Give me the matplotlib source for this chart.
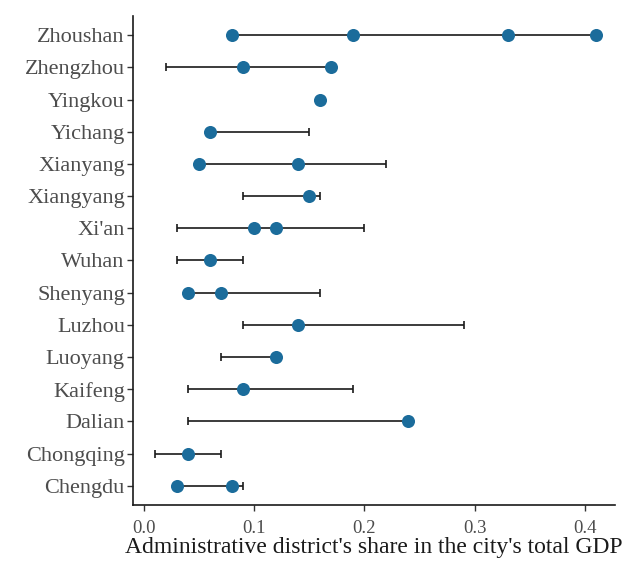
import matplotlib
matplotlib.use('Agg')
from matplotlib import pyplot as plt

# cities from bottom to top
cities = ['Chengdu', 'Chongqing', 'Dalian', 'Kaifeng', 'Luoyang', 'Luzhou',
          'Shenyang', 'Wuhan', "Xi'an", 'Xiangyang', 'Xianyang', 'Yichang',
          'Yingkou', 'Zhengzhou', 'Zhoushan']
# range of district shares (min / max)
lows = [0.03, 0.01, 0.04, 0.04, 0.07, 0.09, 0.04, 0.03, 0.03, 0.09, 0.05, 0.06,
        0.16, 0.02, 0.08]
highs = [0.09, 0.07, 0.24, 0.19, 0.12, 0.29, 0.16, 0.09, 0.20, 0.16, 0.22, 0.15,
         0.16, 0.17, 0.41]
# administrative district points
points = [[0.03, 0.08], [0.04], [0.24], [0.09], [0.12], [0.14],
          [0.04, 0.07], [0.06], [0.10, 0.12], [0.15], [0.05, 0.14], [0.06],
          [0.16], [0.09, 0.17], [0.08, 0.19, 0.33, 0.41]]
xticks = [0.0, 0.1, 0.2, 0.3, 0.4]

plt.rcParams['font.family'] = ['Liberation Serif', 'DejaVu Serif']

fig = plt.figure(figsize=(6.31, 5.65), dpi=100)
ax = fig.add_axes([0.211, 0.106, 0.764, 0.866])

ys = list(range(len(cities)))
mids = [(l + h) / 2 for l, h in zip(lows, highs)]
errs = [(h - l) / 2 for l, h in zip(lows, highs)]
ax.errorbar(mids, ys, xerr=errs, fmt='none', ecolor='#1a1a1a',
            elinewidth=1.2, capsize=3, capthick=1.2, zorder=2)

for y, pts in zip(ys, points):
    ax.plot(pts, [y] * len(pts), 'o', color='#1b6c9b', markersize=9.4,
            markeredgewidth=0, zorder=3, linestyle='none')

ax.set_yticks(ys)
ax.set_yticklabels(cities, fontsize=16)
ax.set_xticks(xticks)
ax.set_xticklabels(['%.1f' % t for t in xticks], fontsize=13.5)
ax.set_xlim(-0.0095, 0.4275)
ax.set_ylim(-0.6, len(cities) - 0.4)

for s in ['top', 'right']:
    ax.spines[s].set_visible(False)
for s in ['left', 'bottom']:
    ax.spines[s].set_linewidth(1.2)
    ax.spines[s].set_color('#1a1a1a')
ax.tick_params(axis='both', length=4, width=1, color='#333333',
               labelcolor='#4d4d4d')
ax.tick_params(axis='x', pad=7)
ax.tick_params(axis='y', pad=2)
ax.set_xlabel("Administrative district's share in the city's total GDP",
              fontsize=17, color='#1a1a1a', labelpad=0)

plt.savefig('out.png', dpi=100)
